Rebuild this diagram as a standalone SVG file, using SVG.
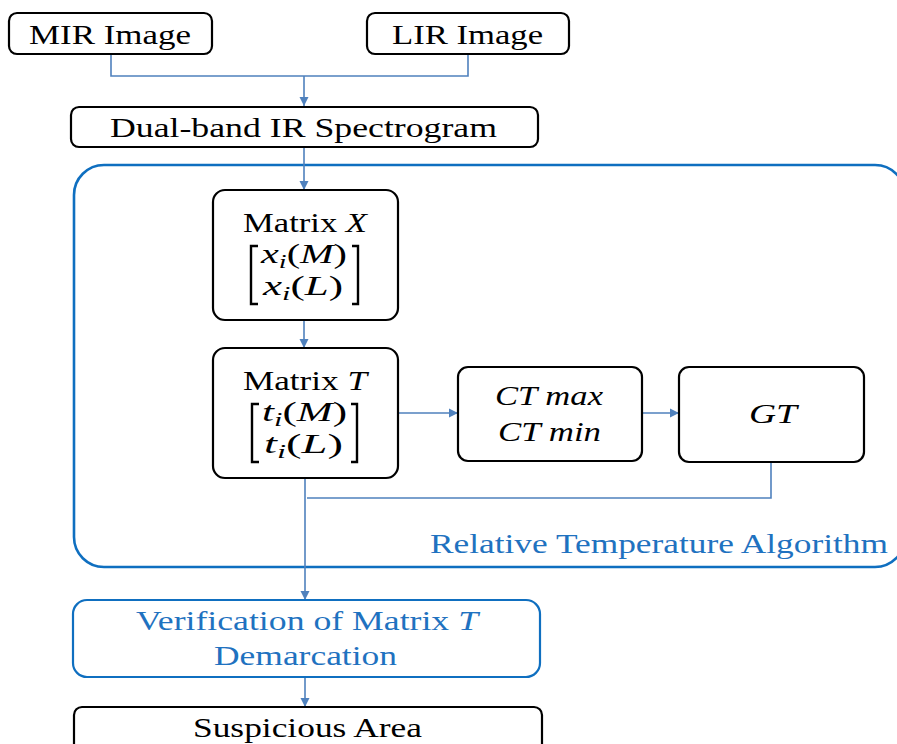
<svg xmlns="http://www.w3.org/2000/svg" width="897" height="744" viewBox="0 0 897 744">
<defs>
<style>
.box{fill:#fff;stroke:#000;stroke-width:2.2}
.con{fill:none;stroke:#4f81bd;stroke-width:1.6}
text{font-family:'Liberation Serif',Tinos,'Times New Roman',Times,'Nimbus Roman','Noto Serif',serif}
.t{font-size:28px;fill:#000}
.m{font-size:27px;fill:#000}
.it{font-style:italic}
.blue{fill:#1f72c0}
.br{fill:none;stroke:#000;stroke-width:2.4}
</style>
<marker id="arr" markerWidth="10" markerHeight="10" refX="9" refY="5" orient="auto" markerUnits="userSpaceOnUse">
<path d="M0,0.5 L9,5 L0,9.5 z" fill="#4f81bd"/>
</marker>
</defs>
<rect width="897" height="744" fill="#fff"/>

<g id="algorithm-frame">
<rect x="74" y="165" width="831" height="402" rx="30" ry="30" fill="none" stroke="#0f6fc0" stroke-width="2.6"/>
<text class="t blue" x="430" y="553" textLength="458" lengthAdjust="spacingAndGlyphs">Relative Temperature Algorithm</text>
</g>

<g id="connectors">
<path class="con" d="M111,54 V76 H468 V54"/>
<path class="con" d="M304,76 V106" marker-end="url(#arr)"/>
<path class="con" d="M304,147 V190" marker-end="url(#arr)"/>
<path class="con" d="M304,320 V348" marker-end="url(#arr)"/>
<path class="con" d="M398,413 H458" marker-end="url(#arr)"/>
<path class="con" d="M642,413 H679" marker-end="url(#arr)"/>
<path class="con" d="M771,462 V498 H307"/>
<path class="con" d="M305,478 V600" marker-end="url(#arr)"/>
<path class="con" d="M305,677 V707" marker-end="url(#arr)"/>
</g>

<g id="mir-image">
<rect class="box" x="9" y="13" width="203" height="41" rx="8"/>
<text class="t" x="29" y="44" textLength="162" lengthAdjust="spacingAndGlyphs">MIR Image</text>
</g>

<g id="lir-image">
<rect class="box" x="367" y="13" width="202" height="41" rx="8"/>
<text class="t" x="392" y="44" textLength="151" lengthAdjust="spacingAndGlyphs">LIR Image</text>
</g>

<g id="dual-band">
<rect class="box" x="71" y="107" width="467" height="40" rx="8"/>
<text class="t" x="110" y="137" textLength="387" lengthAdjust="spacingAndGlyphs">Dual-band IR Spectrogram</text>
</g>

<g id="matrix-x">
<rect class="box" x="213" y="190" width="185" height="130" rx="12"/>
<text class="t" x="243" y="232" textLength="124" lengthAdjust="spacingAndGlyphs">Matrix <tspan class="it">X</tspan></text>
<path class="br" d="M258,246 H251 V304 H258 M352,246 H358 V304 H352"/>
<text class="m" x="261" y="263" textLength="86" lengthAdjust="spacingAndGlyphs"><tspan class="it">x</tspan><tspan class="it" font-size="19" dy="5">i</tspan><tspan dy="-5">(</tspan><tspan class="it">M</tspan>)</text>
<text class="m" x="263" y="295" textLength="80" lengthAdjust="spacingAndGlyphs"><tspan class="it">x</tspan><tspan class="it" font-size="19" dy="5">i</tspan><tspan dy="-5">(</tspan><tspan class="it">L</tspan>)</text>
</g>

<g id="matrix-t">
<rect class="box" x="213" y="348" width="185" height="130" rx="12"/>
<text class="t" x="243" y="390" textLength="124" lengthAdjust="spacingAndGlyphs">Matrix <tspan class="it">T</tspan></text>
<path class="br" d="M259,404 H252 V462 H259 M351,404 H357 V462 H351"/>
<text class="m" x="262" y="421" textLength="85" lengthAdjust="spacingAndGlyphs"><tspan class="it">t</tspan><tspan class="it" font-size="19" dy="5">i</tspan><tspan dy="-5">(</tspan><tspan class="it">M</tspan>)</text>
<text class="m" x="264" y="453" textLength="79" lengthAdjust="spacingAndGlyphs"><tspan class="it">t</tspan><tspan class="it" font-size="19" dy="5">i</tspan><tspan dy="-5">(</tspan><tspan class="it">L</tspan>)</text>
</g>

<g id="ct">
<rect class="box" x="458" y="367" width="184" height="94" rx="10"/>
<text class="t it" x="495" y="405" textLength="108" lengthAdjust="spacingAndGlyphs">CT max</text>
<text class="t it" x="498" y="441" textLength="103" lengthAdjust="spacingAndGlyphs">CT min</text>
</g>

<g id="gt">
<rect class="box" x="679" y="367" width="185" height="95" rx="10"/>
<text class="t it" x="749" y="423" textLength="48" lengthAdjust="spacingAndGlyphs">GT</text>
</g>

<g id="verification">
<rect x="73" y="600" width="467" height="77" rx="14" fill="#fff" stroke="#0f6fc0" stroke-width="2.2"/>
<text class="t blue" x="136" y="630" textLength="342" lengthAdjust="spacingAndGlyphs">Verification of Matrix <tspan class="it">T</tspan></text>
<text class="t blue" x="214" y="665" textLength="183" lengthAdjust="spacingAndGlyphs">Demarcation</text>
</g>

<g id="suspicious-area">
<rect class="box" x="74" y="707" width="468" height="60" rx="8"/>
<text class="t" x="193" y="737" textLength="229" lengthAdjust="spacingAndGlyphs">Suspicious Area</text>
</g>
</svg>
